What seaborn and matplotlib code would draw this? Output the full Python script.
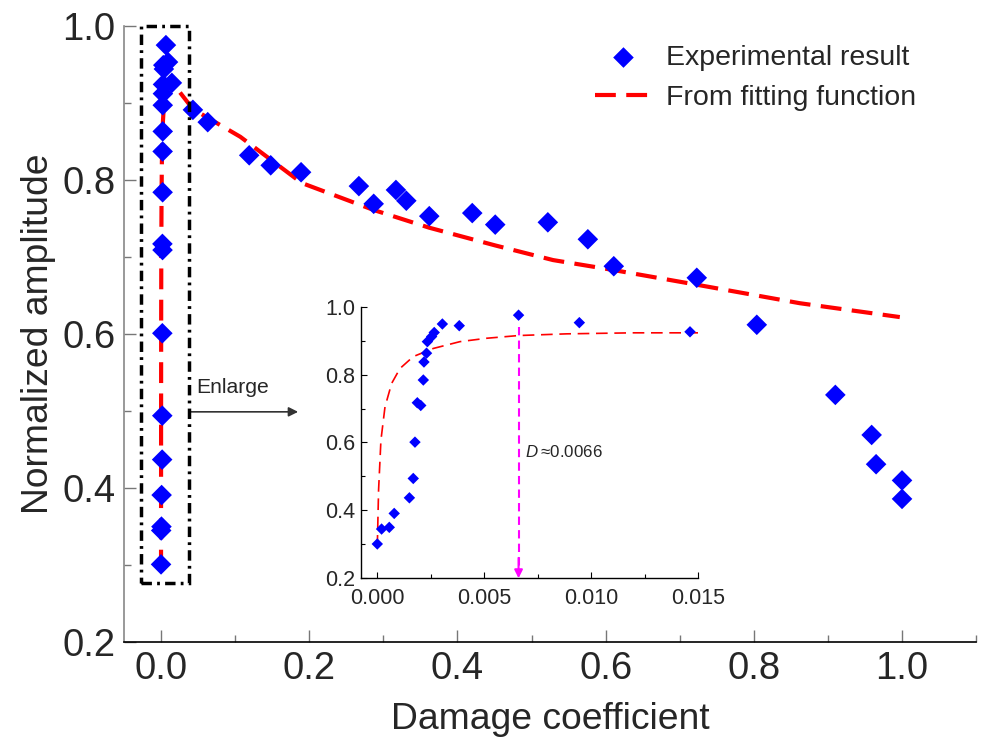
import matplotlib
matplotlib.use("Agg")
import matplotlib.pyplot as plt
import matplotlib.patches as mpatches
from matplotlib.ticker import MultipleLocator
import seaborn as sns
import pandas as pd

# ---------------- data ----------------
damage_exp = [0.0, 0.0002, 0.00056, 0.00079, 0.0015, 0.00168, 0.00176, 0.00187,
              0.00203, 0.00215, 0.00218, 0.0023, 0.00234, 0.00254, 0.00266,
              0.00304, 0.00383, 0.0066, 0.00944, 0.01461,
              0.043, 0.063, 0.119, 0.148, 0.189, 0.267, 0.287, 0.317, 0.331,
              0.362, 0.420, 0.451, 0.522, 0.576, 0.611, 0.723, 0.804, 0.910,
              0.959, 0.965, 1.0, 1.0]
amp_exp = [0.301, 0.345, 0.350, 0.391, 0.437, 0.494, 0.601, 0.717,
           0.709, 0.784, 0.837, 0.863, 0.897, 0.912, 0.924,
           0.949, 0.944, 0.975, 0.953, 0.926,
           0.891, 0.875, 0.832, 0.819, 0.810, 0.792, 0.769, 0.787, 0.773,
           0.753, 0.757, 0.742, 0.745, 0.723, 0.688, 0.673, 0.612, 0.521,
           0.469, 0.431, 0.410, 0.386]

damage_fit = [0.0, 0.00006, 0.00017, 0.00036, 0.00067, 0.00106, 0.00168, 0.00262,
              0.00386, 0.00511, 0.0066, 0.00885, 0.01196, 0.015, 0.022, 0.043,
              0.107, 0.19, 0.287, 0.362, 0.451, 0.529, 0.611, 0.723, 0.862, 0.997]
amp_fit = [0.293, 0.46, 0.607, 0.705, 0.774, 0.818, 0.853, 0.877,
           0.897, 0.907, 0.915, 0.920, 0.923, 0.923, 0.918, 0.892,
           0.856, 0.796, 0.761, 0.738, 0.715, 0.696, 0.683, 0.664, 0.640, 0.622]

critical_D = 0.0066
xticks_main = [0.0, 0.2, 0.4, 0.6, 0.8, 1.0]
yticks = [0.2, 0.4, 0.6, 0.8, 1.0]
xticks_inset = [0.0, 0.005, 0.010, 0.015]

exp_df = pd.DataFrame({"D": damage_exp, "A": amp_exp})
fit_df = pd.DataFrame({"D": damage_fit, "A": amp_fit})
inset_exp = exp_df[exp_df["D"] <= 0.015]
inset_fit = fit_df[fit_df["D"] <= 0.015]

# ---------------- style ----------------
sns.set_style("ticks")
plt.rcParams["font.family"] = ["Liberation Sans", "DejaVu Sans"]
plt.rcParams["mathtext.fontset"] = "custom"
plt.rcParams["mathtext.it"] = "Liberation Sans:italic"
plt.rcParams["mathtext.rm"] = "Liberation Sans"

BLUE = "#0000FF"
RED = "#FF0000"
MAG = "#FF00FF"

fig = plt.figure(figsize=(9.84, 7.39), dpi=100)
ax = fig.add_axes([0.126, 0.131, 0.866, 0.834])

sns.lineplot(data=fit_df, x="D", y="A", ax=ax, sort=False, estimator=None,
             color=RED, lw=3, dashes=False, label="From fitting function", zorder=2)
ax.lines[-1].set_dashes((5, 2.5))
sns.scatterplot(data=exp_df, x="D", y="A", ax=ax, marker="D", s=110, color=BLUE,
                edgecolor="none", label="Experimental result", zorder=3)

ax.set_xlim(-0.05, 1.1)
ax.set_ylim(0.2, 1.0)
ax.set_xticks(xticks_main)
ax.set_xticklabels([f"{v:.1f}" for v in xticks_main])
ax.set_yticks(yticks)
ax.set_yticklabels([f"{v:.1f}" for v in yticks])
ax.xaxis.set_minor_locator(MultipleLocator(0.1))
ax.yaxis.set_minor_locator(MultipleLocator(0.1))
ax.tick_params(which="major", direction="in", length=8.5, width=1.0, color="#777777",
               labelsize=27.5, pad=6)
ax.tick_params(which="minor", direction="in", length=5, width=1.0, color="#777777")
for s in ["top", "right"]:
    ax.spines[s].set_visible(False)
ax.spines["left"].set_color("#888888")
ax.spines["left"].set_linewidth(1.2)
ax.spines["bottom"].set_color("black")
ax.spines["bottom"].set_linewidth(1.2)
ax.set_xlabel("Damage coefficient", fontsize=26.8, labelpad=11)
ax.set_ylabel("Normalized amplitude", fontsize=26.8, labelpad=5)

h, l = ax.get_legend_handles_labels()
order = [l.index("Experimental result"), l.index("From fitting function")]
leg = ax.legend([h[i] for i in order], [l[i] for i in order], frameon=False,
                fontsize=20.5, loc="upper left", bbox_to_anchor=(595 / 984, 1 - 45 / 739),
                bbox_transform=fig.transFigure, borderpad=0, borderaxespad=0,
                handlelength=2.0, handletextpad=0.5, labelspacing=0.5, markerscale=1.0)

# dash-dot box around the cluster
rect = mpatches.Rectangle((-0.027, 0.277), 0.065, 0.723, fill=False, edgecolor="black",
                          lw=2.5, linestyle=(0, (3, 1.5, 0.8, 1.5)), zorder=4, clip_on=False)
ax.add_patch(rect)
ax.annotate("", xy=(0.185, 0.499), xytext=(0.038, 0.499),
            arrowprops=dict(arrowstyle="-|>", color="#333333", lw=1.2,
                            mutation_scale=14, shrinkA=0, shrinkB=0))
ax.text(0.047, 0.531, "Enlarge", fontsize=15.2, va="center", ha="left")

# ---------------- inset ----------------
axin = fig.add_axes([0.3669, 0.2175, 0.3428, 0.3675])
axin.patch.set_alpha(0)
sns.lineplot(data=inset_fit, x="D", y="A", ax=axin, sort=False, estimator=None,
             color=RED, lw=1.2, legend=False, zorder=2)
axin.lines[-1].set_dashes((7, 4))
sns.scatterplot(data=inset_exp, x="D", y="A", ax=axin, marker="D", s=34, color=BLUE,
                edgecolor="none", legend=False, zorder=3)
axin.plot([critical_D, critical_D], [0.94, 0.22], color=MAG, lw=1.5,
          dashes=(4, 2.5), zorder=2)
axin.annotate("", xy=(critical_D, 0.2), xytext=(critical_D, 0.26),
              arrowprops=dict(arrowstyle="-|>", color=MAG, lw=1.5,
                              mutation_scale=12, shrinkA=0, shrinkB=0))
axin.text(0.0069, 0.572, r"$D$" + "\u2009≈0.0066", fontsize=12.2, va="center", ha="left",
          family=["Liberation Sans", "DejaVu Sans"])
axin.set_xlim(-0.00076, 0.015)
axin.set_ylim(0.2, 1.0)
axin.set_xticks(xticks_inset)
axin.set_xticklabels([f"{v:.3f}" for v in xticks_inset])
axin.set_yticks(yticks)
axin.set_yticklabels([f"{v:.1f}" for v in yticks])
axin.xaxis.set_minor_locator(MultipleLocator(0.0025))
axin.yaxis.set_minor_locator(MultipleLocator(0.1))
axin.tick_params(which="major", direction="in", length=4.5, width=0.8, color="black",
                 labelsize=15.5, pad=4)
axin.tick_params(axis="x", which="major", pad=7)
axin.tick_params(which="minor", direction="in", length=3, width=0.8, color="black")
for s in ["top", "right"]:
    axin.spines[s].set_visible(False)
for s in ["left", "bottom"]:
    axin.spines[s].set_color("black")
    axin.spines[s].set_linewidth(1.0)
axin.set_xlabel("")
axin.set_ylabel("")

fig.savefig("out.png", dpi=100)
